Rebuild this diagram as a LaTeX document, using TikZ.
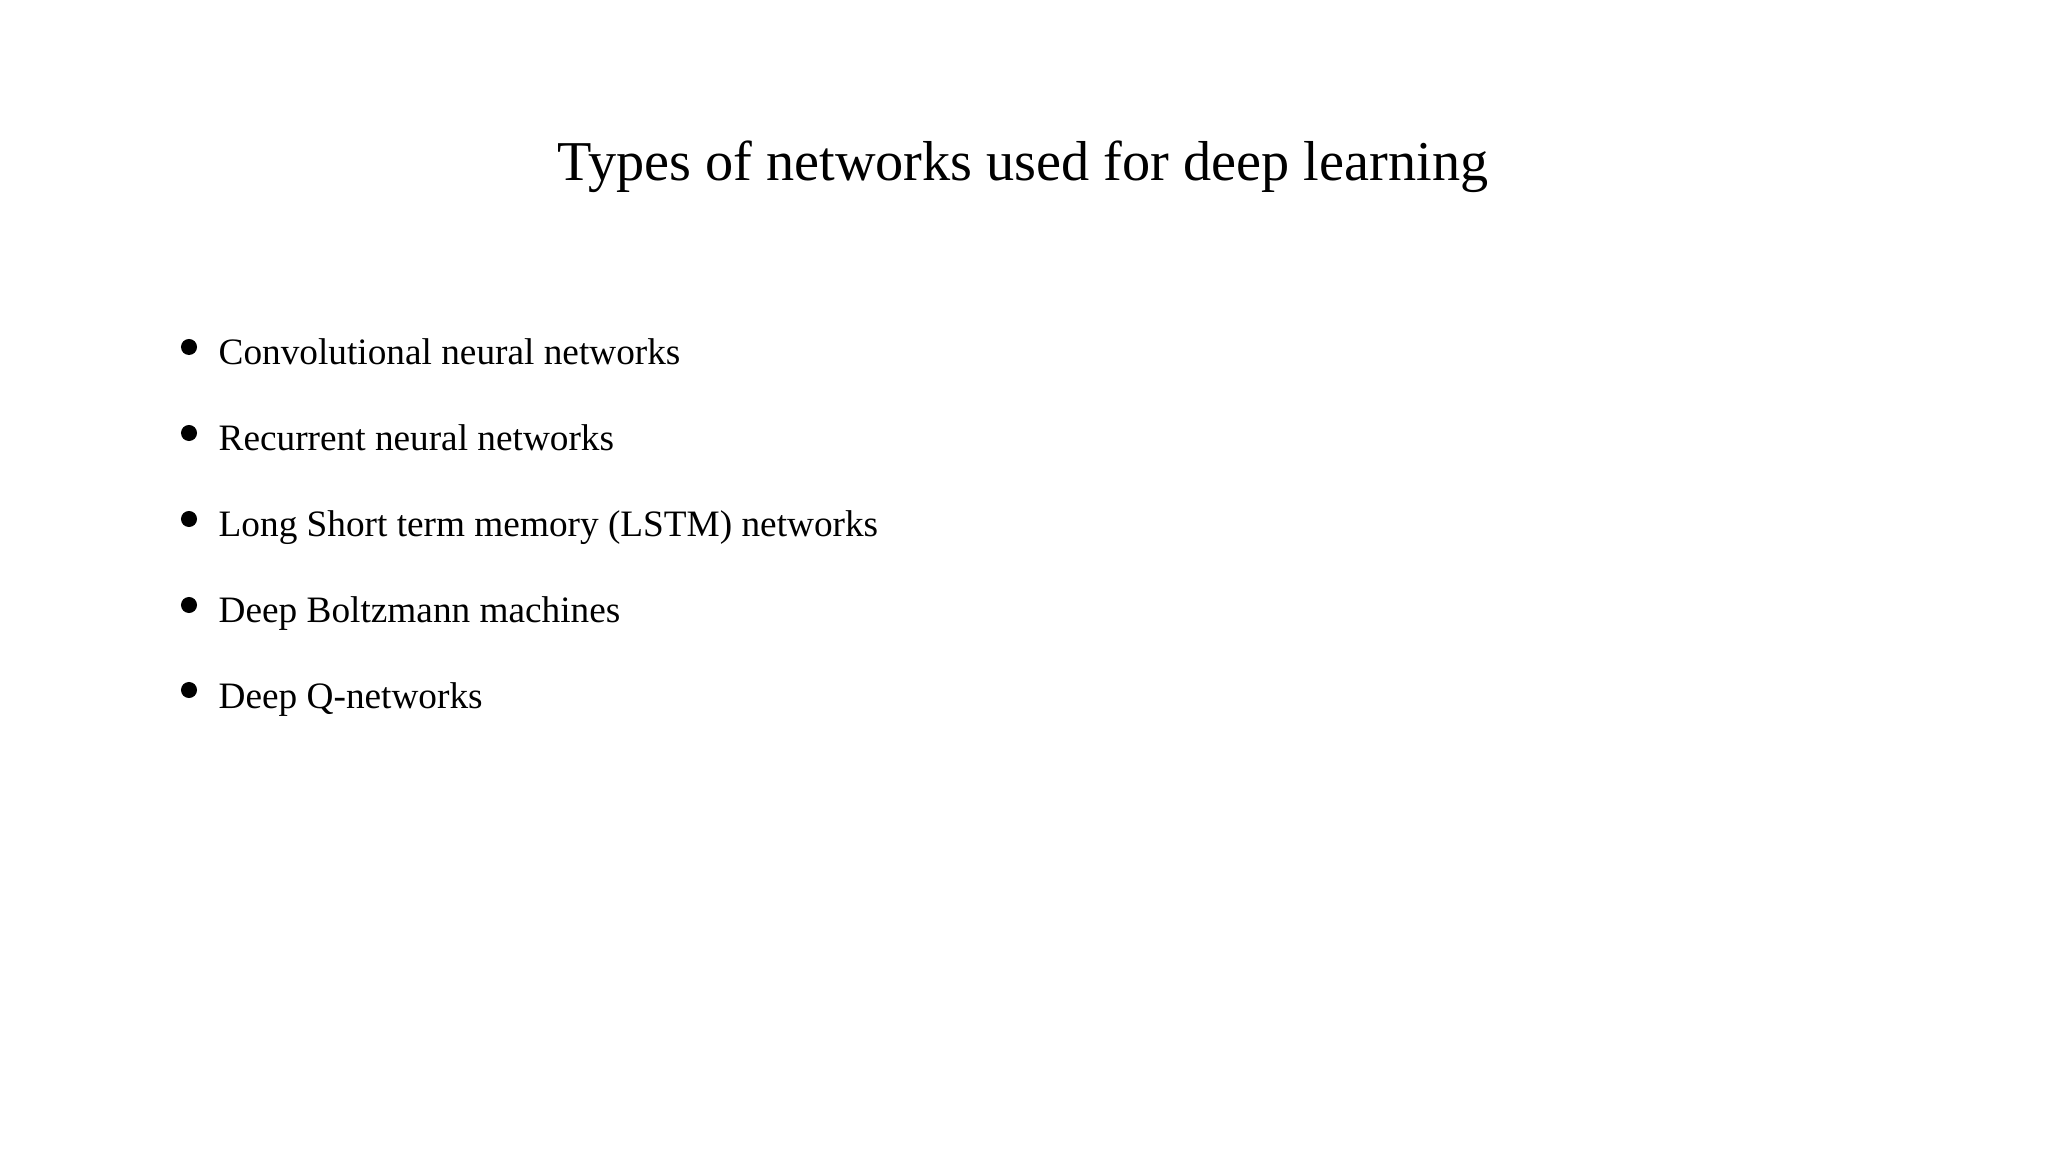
\documentclass[tikz,border=0pt]{standalone}
\usepackage{fontspec}
\setmainfont{Liberation Serif}
\begin{document}
\begin{tikzpicture}[x=0.01cm,y=-0.01cm,
  item/.style={anchor=base west,inner sep=0pt,font=\fontsize{10.6pt}{12pt}\selectfont},
  dot/.style={circle,fill=black,inner sep=0pt,minimum size=0.16cm}]
\useasboundingbox (0,0) rectangle (2048,1152);
\node[inner sep=0pt,anchor=base,font=\fontsize{16pt}{19pt}\selectfont] (title) at (1023,181) {Types of networks used for deep learning};
\foreach \t/\y [count=\i] in {Convolutional neural networks/365,Recurrent neural networks/451,Long Short term memory (LSTM) networks/537,Deep Boltzmann machines/623,Deep Q-networks/708}{
  \node[dot] (b\i) at (189,\y-18) {};
  \node[item] (t\i) at (218,\y) {\t};
}
\end{tikzpicture}
\end{document}
